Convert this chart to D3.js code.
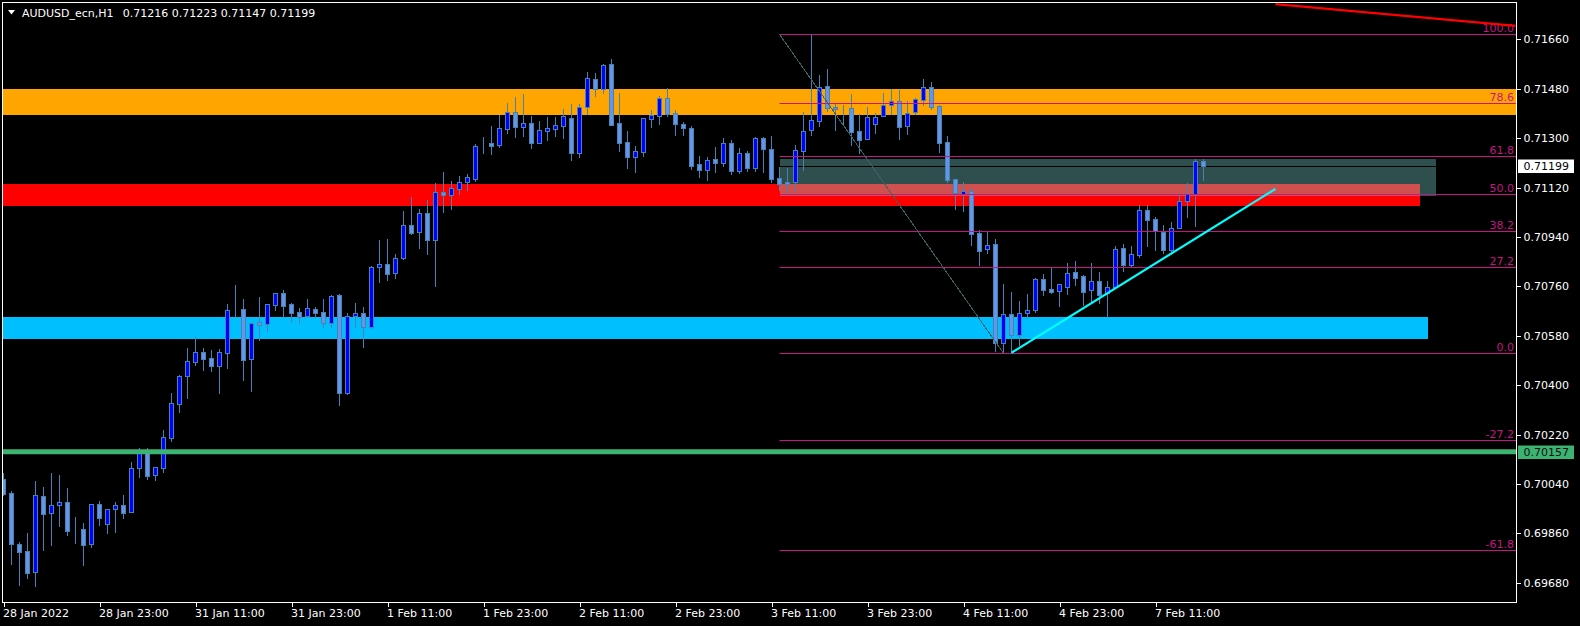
<!DOCTYPE html>
<html><head><meta charset="utf-8">
<script src="https://cdn.jsdelivr.net/npm/d3@7"></script>
<style>html,body{margin:0;padding:0;background:#000;overflow:hidden}</style>
</head><body><svg id="c" width="1580" height="626"></svg>
<script>
// ---------- DATA ----------
const opens = [0.70058,0.70007,0.69821,0.69795,0.69718,0.69996,0.69933,0.69962,0.69974,0.69873,0.69875,0.69820,0.69966,0.69895,0.69947,0.69963,0.69936,0.70097,0.70151,0.70073,
0.70099,0.70208,0.70332,0.70434,0.70485,0.70520,0.70498,0.70470,0.70518,0.70672,0.70677,0.70496,0.70631,0.70621,0.70693,0.70735,0.70695,0.70666,0.70653,0.70677,
0.70666,0.70625,0.70728,0.70372,0.70653,0.70661,0.70613,0.70829,0.70840,0.70807,0.70864,0.70983,0.70959,0.71026,0.70930,0.71102,0.71091,0.71115,0.71141,0.71152,
0.71273,0.71281,0.71276,0.71334,0.71395,0.71341,0.71355,0.71283,0.71327,0.71334,0.71345,0.71373,0.71247,0.71414,0.71515,0.71480,0.71570,0.71355,0.71286,0.71232,
0.71250,0.71368,0.71381,0.71446,0.71391,0.71351,0.71337,0.71205,0.71185,0.71225,0.71210,0.71281,0.71181,0.71245,0.71192,0.71299,0.71260,0.71153,0.71140,0.71139,
0.71254,0.71330,0.71363,0.71490,0.71414,0.71409,0.71409,0.71326,0.71295,0.71352,0.71379,0.71419,0.71435,0.71343,0.71394,0.71440,0.71486,0.71417,0.71286,0.71151,
0.71097,0.71108,0.70955,0.70897,0.70915,0.70552,0.70659,0.70581,0.70661,0.70675,0.70786,0.70749,0.70742,0.70756,0.70812,0.70797,0.70745,0.70779,0.70734,0.70756,
0.70898,0.70838,0.70875,0.71037,0.71004,0.70959,0.70893,0.70973,0.71070,0.71095,0.71216];
const highs = [0.70078,0.70014,0.69828,0.69861,0.70050,0.70028,0.70079,0.70072,0.70025,0.69919,0.69897,0.69965,0.69977,0.69949,0.69973,0.69999,0.70121,0.70169,0.70171,0.70101,
0.70236,0.70371,0.70435,0.70535,0.70576,0.70535,0.70528,0.70531,0.70696,0.70764,0.70713,0.70625,0.70721,0.70695,0.70734,0.70746,0.70700,0.70682,0.70713,0.70684,
0.70713,0.70727,0.70732,0.70661,0.70699,0.70684,0.70834,0.70928,0.70932,0.70877,0.71034,0.71085,0.71041,0.71074,0.71135,0.71176,0.71143,0.71162,0.71170,0.71278,
0.71303,0.71344,0.71384,0.71428,0.71450,0.71460,0.71380,0.71362,0.71377,0.71377,0.71406,0.71424,0.71424,0.71541,0.71537,0.71570,0.71588,0.71464,0.71326,0.71271,
0.71372,0.71402,0.71453,0.71482,0.71402,0.71358,0.71344,0.71235,0.71232,0.71268,0.71300,0.71294,0.71264,0.71254,0.71303,0.71303,0.71307,0.71196,0.71190,0.71275,
0.71394,0.71679,0.71530,0.71552,0.71424,0.71420,0.71460,0.71386,0.71413,0.71390,0.71463,0.71479,0.71475,0.71435,0.71447,0.71515,0.71505,0.71420,0.71307,0.71151,
0.71141,0.71117,0.70964,0.70959,0.70932,0.70767,0.70738,0.70706,0.70732,0.70791,0.70805,0.70828,0.70767,0.70845,0.70852,0.70801,0.70845,0.70811,0.70779,0.70907,
0.70913,0.70906,0.71055,0.71056,0.71013,0.70983,0.70995,0.71092,0.71137,0.71223,0.71223];
const lows = [0.70000,0.69749,0.69672,0.69698,0.69669,0.69800,0.69818,0.69886,0.69855,0.69825,0.69745,0.69811,0.69891,0.69862,0.69866,0.69917,0.69936,0.70066,0.70058,0.70054,
0.70084,0.70197,0.70303,0.70354,0.70473,0.70455,0.70451,0.70371,0.70463,0.70649,0.70418,0.70379,0.70564,0.70598,0.70673,0.70649,0.70631,0.70625,0.70647,0.70649,
0.70613,0.70613,0.70327,0.70367,0.70613,0.70540,0.70607,0.70777,0.70784,0.70790,0.70860,0.70949,0.70900,0.70879,0.70762,0.71032,0.71042,0.71097,0.71112,0.71144,
0.71245,0.71242,0.71267,0.71319,0.71304,0.71307,0.71264,0.71283,0.71293,0.71307,0.71300,0.71220,0.71232,0.71388,0.71454,0.71465,0.71347,0.71254,0.71191,0.71176,
0.71235,0.71340,0.71352,0.71380,0.71311,0.71311,0.71187,0.71158,0.71147,0.71176,0.71198,0.71169,0.71173,0.71181,0.71181,0.71176,0.71140,0.71111,0.71099,0.71104,
0.71184,0.71311,0.71344,0.71400,0.71330,0.71348,0.71275,0.71247,0.71295,0.71319,0.71379,0.71389,0.71297,0.71316,0.71388,0.71420,0.71407,0.71249,0.71139,0.71042,
0.71035,0.70911,0.70838,0.70882,0.70524,0.70516,0.70519,0.70547,0.70643,0.70667,0.70729,0.70736,0.70689,0.70732,0.70766,0.70692,0.70698,0.70698,0.70649,0.70756,
0.70817,0.70831,0.70868,0.70908,0.70892,0.70881,0.70886,0.70973,0.71012,0.70980,0.71147];
const closes = [0.70004,0.69822,0.69793,0.69716,0.69998,0.69931,0.69962,0.69973,0.69869,0.69871,0.69818,0.69965,0.69917,0.69947,0.69962,0.69935,0.70097,0.70155,0.70069,0.70101,
0.70210,0.70333,0.70432,0.70486,0.70519,0.70495,0.70469,0.70519,0.70672,0.70673,0.70491,0.70625,0.70619,0.70695,0.70734,0.70689,0.70664,0.70649,0.70680,0.70664,
0.70626,0.70723,0.70372,0.70653,0.70661,0.70613,0.70829,0.70840,0.70806,0.70862,0.70982,0.70955,0.71026,0.70928,0.71102,0.71094,0.71117,0.71139,0.71157,0.71270,
0.71272,0.71271,0.71335,0.71395,0.71340,0.71354,0.71282,0.71328,0.71335,0.71346,0.71379,0.71245,0.71412,0.71518,0.71479,0.71566,0.71348,0.71282,0.71231,0.71252,
0.71372,0.71383,0.71445,0.71388,0.71352,0.71337,0.71198,0.71185,0.71220,0.71209,0.71281,0.71181,0.71245,0.71192,0.71299,0.71260,0.71151,0.71132,0.71132,0.71255,
0.71325,0.71365,0.71485,0.71411,0.71406,0.71409,0.71323,0.71294,0.71377,0.71376,0.71420,0.71434,0.71341,0.71391,0.71441,0.71486,0.71414,0.71283,0.71147,0.71101,
0.71107,0.70950,0.70888,0.70910,0.70552,0.70658,0.70581,0.70661,0.70672,0.70785,0.70746,0.70740,0.70767,0.70807,0.70790,0.70740,0.70778,0.70729,0.70756,0.70897,
0.70837,0.70876,0.71037,0.71002,0.70961,0.70893,0.70971,0.71070,0.71095,0.71215,0.71199];

const timeTickBars = [0,12,24,36,48,60,72,84,96,108,120,132,144];
const timeTickLabels = ["28 Jan 2022","28 Jan 23:00","31 Jan 11:00","31 Jan 23:00","1 Feb 11:00","1 Feb 23:00","2 Feb 11:00","2 Feb 23:00","3 Feb 11:00","3 Feb 23:00","4 Feb 11:00","4 Feb 23:00","7 Feb 11:00"];
const priceTicks = [0.71660,0.71480,0.71300,0.71120,0.70940,0.70760,0.70580,0.70400,0.70220,0.70040,0.69860,0.69680];

const symbolTitle = "AUDUSD_ecn,H1";
const headerOHLC = [0.71216,0.71223,0.71147,0.71199];
const bidPrice = 0.71199;
const greenLevel = 0.70157;

const orangeZone = [0.71479, 0.71384];
const redZone = [0.71132, 0.71053];
const cyanZone = [0.70648, 0.70568];
const slateZone = [0.71224, 0.71089];
const redZoneEndBar = 177, cyanZoneEndBar = 178, slateStartBar = 97, slateEndBar = 179;

const fiboHigh = 0.71678, fiboLow = 0.70516, fiboHighBar = 97, fiboLowBar = 125;
const fiboLevels = [100, 78.6, 61.8, 50, 38.2, 27.2, 0, -27.2, -61.8];
const fiboLabels = ["100.0","78.6","61.8","50.0","38.2","27.2","0.0","-27.2","-61.8"];

const cyanTrend = [[126, 0.70518],[159, 0.71115]];
const redTrend = [[159, 0.71788],[189, 0.71709]];

// ---------- LAYOUT ----------
const L = 2.5, R = 1516.5, T = 2.5, B = 602.5;
const FONT = "'DejaVu Sans', sans-serif";
const svg = d3.select("#c");
svg.append("rect").attr("width",1580).attr("height",626).attr("fill","#000");

const x = d3.scaleLinear().domain([0,150]).range([3.5, 1203.5]);
const y = d3.scaleLinear().domain([0.69680, 0.71660]).range([582.7, 39.3]);

const defs = svg.append("defs");
defs.append("clipPath").attr("id","plot").append("rect").attr("x",3).attr("y",3).attr("width",R-3).attr("height",B-3);

const plot = svg.append("g").attr("clip-path","url(#plot)");

// zones (background)
function zone(x0, x1, p0, p1, color){
  const ya = Math.round(y(p0)), yb = Math.round(y(p1));
  plot.append("rect").attr("x",x0).attr("y",ya).attr("width",x1-x0).attr("height",yb-ya).attr("fill",color).attr("shape-rendering","crispEdges");
}
zone(L, R, orangeZone[0], orangeZone[1], "#FFA500");
zone(L, x(redZoneEndBar), redZone[0], redZone[1], "#FF0000");
zone(L, x(cyanZoneEndBar), cyanZone[0], cyanZone[1], "#00BFFF");
zone(x(slateStartBar), x(slateEndBar), slateZone[0], slateZone[1], "#2F4F4F");
// XOR overlap of red and slate
zone(x(slateStartBar), x(redZoneEndBar), redZone[0], slateZone[1], "#D04F4F");

// bid line (black)
plot.append("line").attr("x1",L).attr("x2",R).attr("y1",Math.round(y(bidPrice))+0.5).attr("y2",Math.round(y(bidPrice))+0.5)
  .attr("stroke","#000").attr("stroke-width",1);

// candles
const bars = d3.range(opens.length).map(i=>({i,o:opens[i],h:highs[i],l:lows[i],c:closes[i]}));
const cg = plot.append("g").attr("shape-rendering","crispEdges");
const WICK = "#4682B4", BULL = "#0000FF", BEAR = "#6495ED";
cg.selectAll("line.w").data(bars).join("line").attr("class","w")
  .attr("x1",d=>x(d.i)).attr("x2",d=>x(d.i))
  .attr("y1",d=>Math.round(y(d.h))).attr("y2",d=>Math.round(y(d.l))+1)
  .attr("stroke",WICK).attr("stroke-width",1);
cg.selectAll("rect.b").data(bars).join("rect").attr("class","b")
  .attr("x",d=>x(d.i)-2).attr("width",4)
  .attr("y",d=>Math.round(y(Math.max(d.o,d.c)))+0.5)
  .attr("height",d=>Math.max(0, Math.round(y(Math.min(d.o,d.c))) - Math.round(y(Math.max(d.o,d.c)))))
  .attr("fill",d=>d.c>d.o?BULL:BEAR).attr("stroke",WICK).attr("stroke-width",1);

// green horizontal level
plot.append("line").attr("x1",L).attr("x2",R).attr("y1",y(greenLevel)).attr("y2",y(greenLevel))
  .attr("stroke","#3CB371").attr("stroke-width",5);

// fibonacci
const fiboPrice = lv => fiboLow + (fiboHigh-fiboLow)*lv/100;
const fg = svg.append("g").attr("clip-path","url(#plot)");
fiboLevels.forEach((lv,k)=>{
  const yy = Math.round(y(fiboPrice(lv)))+0.5;
  fg.append("line").attr("x1",x(fiboHighBar)).attr("x2",R).attr("y1",yy).attr("y2",yy)
    .attr("stroke","#C71585").attr("stroke-width",1);
  fg.append("text").attr("x",1514).attr("y",yy-2.5).attr("text-anchor","end")
    .attr("font-family",FONT).attr("font-size",11).attr("fill","#C71585").text(fiboLabels[k]);
});
fg.append("line").attr("x1",x(fiboHighBar)).attr("y1",y(fiboHigh)).attr("x2",x(fiboLowBar)).attr("y2",y(fiboLow))
  .attr("stroke","#3A6464").attr("stroke-width",1).attr("shape-rendering","crispEdges");

// trend lines
fg.append("line").attr("x1",x(cyanTrend[0][0])).attr("y1",y(cyanTrend[0][1])).attr("x2",x(cyanTrend[1][0])).attr("y2",y(cyanTrend[1][1]))
  .attr("stroke","#00FFFF").attr("stroke-width",2.2);
fg.append("line").attr("x1",x(redTrend[0][0])).attr("y1",y(redTrend[0][1])).attr("x2",x(redTrend[1][0])).attr("y2",y(redTrend[1][1]))
  .attr("stroke","#FF0000").attr("stroke-width",2.2);

// frame
svg.append("rect").attr("x",L).attr("y",T).attr("width",R-L).attr("height",B-T)
  .attr("fill","none").attr("stroke","#fff").attr("stroke-width",1);

// price axis
const ya = svg.append("g").attr("transform",`translate(${R},0)`)
  .call(d3.axisRight(y).tickValues(priceTicks).tickSize(4).tickPadding(3).tickFormat(d3.format(".5f")));
ya.select(".domain").remove();
ya.selectAll("line").attr("stroke","#fff").attr("shape-rendering","crispEdges");
ya.selectAll("text").attr("fill","#fff").attr("font-family",FONT).attr("font-size",11);

// time axis
const xa = svg.append("g").attr("transform",`translate(0,${B})`)
  .call(d3.axisBottom(x).tickValues(timeTickBars).tickSize(4).tickPadding(3).tickFormat((d,i)=>timeTickLabels[i]));
xa.select(".domain").remove();
xa.selectAll("line").attr("stroke","#fff").attr("shape-rendering","crispEdges");
xa.selectAll("text").attr("fill","#fff").attr("font-family",FONT).attr("font-size",11).attr("text-anchor","start").attr("x",-1);

// price labels on axis
function priceBox(p, bg, fg){
  const yy = y(p);
  svg.append("rect").attr("x",1518).attr("y",Math.round(yy)-6.5).attr("width",56).attr("height",13.5).attr("fill",bg);
  svg.append("text").attr("x",1523.5).attr("y",yy).attr("dy","0.36em").attr("font-family",FONT).attr("font-size",11)
    .attr("fill",fg).text(d3.format(".5f")(p));
}
priceBox(bidPrice, "#FFFFFF", "#000");
priceBox(greenLevel, "#3CB371", "#111");

// header
svg.append("path").attr("d","M8,10 L15,10 L11.5,14.5 Z").attr("fill","#fff");
svg.append("text").attr("x",22).attr("y",16.5).attr("font-family",FONT).attr("font-size",11).attr("fill","#fff").text(symbolTitle);
svg.append("text").attr("x",122.7).attr("y",16.5).attr("font-family",FONT).attr("font-size",11).attr("fill","#fff")
  .text(headerOHLC.map(d3.format(".5f")).join(" "));
</script></body></html>
